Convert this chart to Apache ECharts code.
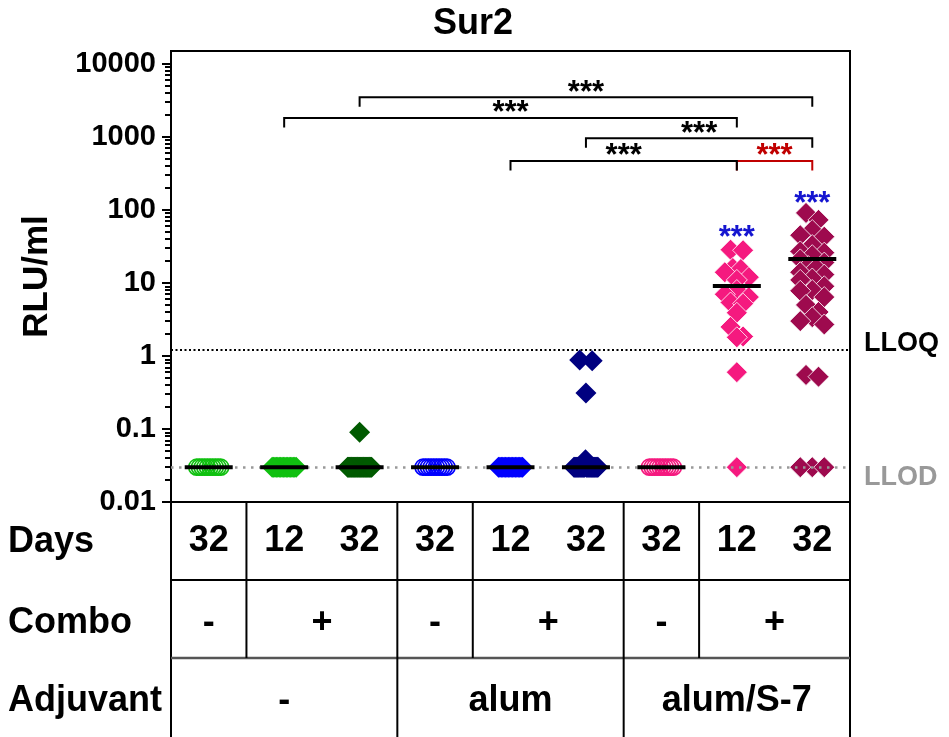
<!DOCTYPE html>
<html>
<head>
<meta charset="utf-8">
<script src="https://cdn.jsdelivr.net/npm/echarts@6/dist/echarts.min.js"></script>
<style>
html, body { margin: 0; padding: 0; background: #fff; }
#main { width: 949px; height: 737px; }
</style>
</head>
<body>
<div id="main"></div>
<script>
// table rows under the plot
var days = ['32', '12', '32', '32', '12', '32', '32', '12', '32'];
var comboLabels = ['-', '+', '-', '+', '-', '+'];
var comboSpans = [[0, 0], [1, 2], [3, 3], [4, 5], [6, 6], [7, 8]];
var adjuvantLabels = ['-', 'alum', 'alum/S-7'];
var adjuvantSpans = [[0, 2], [3, 5], [6, 8]];
var rowNames = ['Days', 'Combo', 'Adjuvant'];

// RLU/ml per animal, one array per column
var g0 = [0.03, 0.03, 0.03, 0.03, 0.03, 0.03, 0.03, 0.03, 0.03, 0.03];
var g1 = [0.03, 0.03, 0.03, 0.03, 0.03, 0.03, 0.03, 0.03, 0.03, 0.03, 0.03, 0.03, 0.03, 0.03, 0.03, 0.03, 0.03, 0.03];
var g2 = [0.09, 0.03, 0.03, 0.03, 0.03, 0.03, 0.03, 0.03, 0.03, 0.03, 0.03, 0.03, 0.03, 0.03, 0.03, 0.03, 0.03, 0.03, 0.03, 0.03, 0.03, 0.03, 0.03, 0.03, 0.03, 0.03, 0.03, 0.03, 0.03, 0.03];
var g3 = [0.03, 0.03, 0.03, 0.03, 0.03, 0.03, 0.03, 0.03, 0.03, 0.03];
var g4 = [0.03, 0.03, 0.03, 0.03, 0.03, 0.03, 0.03, 0.03, 0.03, 0.03, 0.03, 0.03, 0.03, 0.03, 0.03, 0.03, 0.03, 0.03];
var g5 = [0.88, 0.86, 0.31, 0.038, 0.03, 0.03, 0.03, 0.03, 0.03, 0.03, 0.03, 0.03, 0.03, 0.03, 0.03, 0.03, 0.03, 0.03, 0.03, 0.03, 0.03, 0.03, 0.03, 0.03, 0.03, 0.03, 0.03, 0.03, 0.03, 0.03, 0.03];
var g6 = [0.03, 0.03, 0.03, 0.03, 0.03, 0.03, 0.03, 0.03, 0.03, 0.03];
var g7 = [28.5, 28, 16, 15.5, 14, 12, 11, 8, 7, 6.4, 5.4, 5.2, 3.9, 2.5, 1.85, 1.8, 0.6, 0.03];
var g8 = [91, 73, 53, 45, 43, 33, 27, 26, 24, 21, 19, 17, 16, 14, 13, 11.5, 11, 9, 8, 7.8, 6.4, 5, 4, 3.4, 3.0, 2.7, 0.55, 0.52, 0.03, 0.03, 0.03];
var groups = [g0, g1, g2, g3, g4, g5, g6, g7, g8];

var means = [0.03, 0.03, 0.03, 0.03, 0.03, 0.03, 0.03, 9.1, 21.3];
var semLow = [null, null, null, null, null, null, null, 7.3, 17.6];
var semHigh = [null, null, null, null, null, null, null, 11.7, 25];

// [from column, to column, level]
var brackets = [[7, 8, 469], [2, 8, 3500], [1, 7, 1820], [5, 8, 960], [4, 7, 469]];
var bracketColors = ['#c00000', '#000', '#000', '#000', '#000'];
var stars = [[7, 41], [8, 117]];

var lloq = 1.23, llod = 0.03;
var yTicks = [0.01, 0.1, 1, 10, 100, 1000, 10000];
var yMinorTicks = [];
for (var e = -2; e < 4; e++) {
    for (var m = 2; m < 10; m++) yMinorTicks.push(+(m * Math.pow(10, e)).toPrecision(3));
}

var colors = ['#10c010', '#10c010', '#005a00', '#0000ff', '#0000ff', '#000080', '#f5197f', '#f5197f', '#9e0a4e'];
var hollow = [true, false, false, true, false, false, true, false, false];
var edged = [false, false, false, false, false, false, false, true, true];

var FONT = '"Liberation Sans", Arial, sans-serif';
var gridLeft = 171, gridTop = 51, gridW = 679, gridH = 451;
var yMin = 0.01, yMax = 15000;
var pxPerDecade = gridH / (Math.log10(yMax) - Math.log10(yMin));

// spread points that sit on the same row sideways (pixel offsets)
function swarm(values, step, maxHalf) {
    var order = values.map(function (v, i) { return i; })
        .sort(function (a, b) { return values[b] - values[a]; });
    var offs = values.map(function () { return 0; });
    var row = [], top = null;
    function flush() {
        var n = row.length;
        var s = n > 1 ? Math.min(step, 2 * maxHalf / (n - 1)) : 0;
        var slots = [];
        for (var k = 0; k < n; k++) slots.push((k - (n - 1) / 2) * s);
        slots.sort(function (a, b) { return Math.abs(a) - Math.abs(b) || a - b; });
        row.forEach(function (i, k) { offs[i] = slots[k]; });
        row = [];
        top = null;
    }
    order.forEach(function (i) {
        var y = Math.log10(values[i]) * pxPerDecade;
        if (top !== null && top - y > 10) flush();
        if (top === null) top = y;
        row.push(i);
    });
    flush();
    return offs;
}

var chart = echarts.init(document.getElementById('main'));

var series = [];

series.push({
    type: 'scatter',
    data: [],
    z: 1,
    markLine: {
        silent: true,
        symbol: ['none', 'none'],
        animation: false,
        data: [
            {
                yAxis: lloq,
                lineStyle: { color: '#000', type: [2, 2.5], width: 2 },
                label: { show: true, position: 'end', formatter: 'LLOQ', color: '#000', fontSize: 27, fontWeight: 'bold', fontFamily: FONT, distance: 14, offset: [0, -6] }
            },
            {
                yAxis: llod,
                lineStyle: { color: '#999', type: [2.5, 5.5], width: 2.5 },
                label: { show: true, position: 'end', formatter: 'LLOD', color: '#999', fontSize: 27, fontWeight: 'bold', fontFamily: FONT, distance: 14, offset: [0, 10] }
            }
        ]
    }
});

groups.forEach(function (vals, i) {
    var offs = swarm(vals, 12.5, 12);
    var style;
    if (hollow[i]) style = { color: 'rgba(255,255,255,0)', borderColor: colors[i], borderWidth: 1.6, opacity: 1 };
    else if (edged[i]) style = { color: colors[i], borderColor: '#fff', borderWidth: 0.8, opacity: 1 };
    else style = { color: colors[i], borderWidth: 0, opacity: 1 };
    series.push({
        type: 'scatter',
        z: 3,
        symbol: hollow[i] ? 'circle' : 'diamond',
        symbolSize: hollow[i] ? 16 : 21,
        itemStyle: style,
        data: vals.map(function (v, k) {
            return { value: [i, v], symbolOffset: [offs[k], 0] };
        })
    });
});

// SEM whiskers
series.push({
    type: 'custom',
    z: 2,
    data: semLow.map(function (lo, i) { return [i, lo, semHigh[i]]; })
        .filter(function (d) { return d[1] != null; }),
    encode: { x: 0, y: [1, 2] },
    renderItem: function (params, api) {
        var lo = api.coord([api.value(0), api.value(1)]);
        var hi = api.coord([api.value(0), api.value(2)]);
        var st = { stroke: '#000', lineWidth: 2 };
        return {
            type: 'group', children: [
                { type: 'line', shape: { x1: lo[0], y1: lo[1], x2: hi[0], y2: hi[1] }, style: st },
                { type: 'line', shape: { x1: lo[0] - 12, y1: lo[1], x2: lo[0] + 12, y2: lo[1] }, style: st },
                { type: 'line', shape: { x1: hi[0] - 12, y1: hi[1], x2: hi[0] + 12, y2: hi[1] }, style: st }
            ]
        };
    }
});

// mean lines
series.push({
    type: 'scatter',
    z: 5,
    symbol: 'rect',
    symbolSize: [48, 4],
    itemStyle: { color: '#000', opacity: 1 },
    data: means.map(function (v, i) { return [i, v]; })
});

// comparison brackets
series.push({
    type: 'custom',
    z: 6,
    data: brackets,
    encode: { x: [0, 1], y: 2 },
    renderItem: function (params, api) {
        var y = api.value(2);
        var a = api.coord([api.value(0), y]);
        var b = api.coord([api.value(1), y]);
        var c = bracketColors[params.dataIndex];
        return {
            type: 'group', children: [
                { type: 'polyline', shape: { points: [[a[0], a[1] + 9.5], [a[0], a[1]], [b[0], b[1]], [b[0], b[1] + 9.5]] }, style: { stroke: c, lineWidth: 2, fill: null } },
                { type: 'text', x: (a[0] + b[0]) / 2, y: a[1] - 4, style: { text: '***', fill: c, font: 'bold 31px ' + FONT, align: 'center', verticalAlign: 'middle' } }
            ]
        };
    }
});

// stars over single columns
series.push({
    type: 'custom',
    z: 6,
    data: stars,
    renderItem: function (params, api) {
        var p = api.coord([api.value(0), api.value(1)]);
        return { type: 'text', x: p[0], y: p[1], style: { text: '***', fill: '#1515d0', font: 'bold 31px ' + FONT, align: 'center', verticalAlign: 'middle' } };
    }
});

var option = {
    animation: false,
    backgroundColor: '#fff',
    title: {
        text: 'Sur2',
        left: 428,
        top: 1,
        textStyle: { fontSize: 36, fontWeight: 'bold', color: '#000', fontFamily: FONT }
    },
    grid: {
        left: gridLeft, top: gridTop, width: gridW, height: gridH,
        show: true, borderColor: '#000', borderWidth: 2, backgroundColor: 'transparent',
        containLabel: false, outerBoundsMode: 'none'
    },
    xAxis: {
        type: 'category',
        data: days,
        axisLine: { show: true, lineStyle: { color: '#000', width: 2 } },
        axisTick: { show: false },
        splitLine: { show: false },
        axisLabel: { interval: 0, margin: 21, color: '#000', fontSize: 36, fontWeight: 'bold', fontFamily: FONT }
    },
    yAxis: [
        {
            type: 'log', logBase: 10, min: yMin, max: yMax,
            axisLine: { show: true, lineStyle: { color: '#000', width: 2 } },
            axisTick: { show: true, length: 9, lineStyle: { color: '#000', width: 2 }, customValues: yTicks },
            axisLabel: {
                customValues: yTicks, margin: 15, color: '#000', fontSize: 29, fontWeight: 'bold', fontFamily: FONT,
                formatter: function (v) { return String(+(+v).toPrecision(6)); }
            },
            splitLine: { show: false },
            minorTick: { show: false },
            name: 'RLU/ml', nameLocation: 'middle', nameRotate: 90, nameGap: 116,
            nameTextStyle: { color: '#000', fontSize: 35, fontWeight: 'bold', fontFamily: FONT }
        },
        {
            type: 'log', logBase: 10, min: yMin, max: yMax, position: 'left',
            axisLine: { show: false },
            axisTick: { show: true, length: 6, lineStyle: { color: '#000', width: 2 }, customValues: yMinorTicks },
            axisLabel: { show: false },
            splitLine: { show: false }
        }
    ],
    series: series
};

chart.setOption(option);

// table drawn under the x axis
function px(i) { return chart.convertToPixel({ xAxisIndex: 0 }, i); }
var yBottom = gridTop + gridH, yRow1 = 580, yRow2 = 658, yEnd = 737;
var rowMid = [542, 623, 701];
var g = [];
var lineStyle = { stroke: '#000', lineWidth: 2 };
function vline(x, y1, y2, st) {
    g.push({ type: 'line', shape: { x1: x, y1: y1, x2: x, y2: y2 }, style: st || lineStyle, silent: true });
}
function hline(y, st) {
    g.push({ type: 'line', shape: { x1: gridLeft, y1: y, x2: gridLeft + gridW, y2: y }, style: st || lineStyle, silent: true });
}
function label(text, x, y, align) {
    g.push({ type: 'text', x: x, y: y, silent: true, style: { text: text, fill: '#000', font: 'bold 36px ' + FONT, align: align || 'center', verticalAlign: 'middle' } });
}
vline(gridLeft, yBottom, yEnd);
vline(gridLeft + gridW, yBottom, yEnd);
hline(yRow1);
hline(yRow2, { stroke: '#555', lineWidth: 2.5 });
for (var k = 0; k < comboSpans.length - 1; k++) {
    vline((px(comboSpans[k][1]) + px(comboSpans[k + 1][0])) / 2, yBottom, yRow2);
}
for (var k = 0; k < adjuvantSpans.length - 1; k++) {
    vline((px(adjuvantSpans[k][1]) + px(adjuvantSpans[k + 1][0])) / 2, yRow2, yEnd);
}
comboSpans.forEach(function (s, k) {
    label(comboLabels[k], (px(s[0]) + px(s[1])) / 2, rowMid[1]);
});
adjuvantSpans.forEach(function (s, k) {
    label(adjuvantLabels[k], (px(s[0]) + px(s[1])) / 2, rowMid[2]);
});
rowNames.forEach(function (n, k) { label(n, 8, rowMid[k], 'left'); });

chart.setOption({ graphic: g });
</script>
</body>
</html>
